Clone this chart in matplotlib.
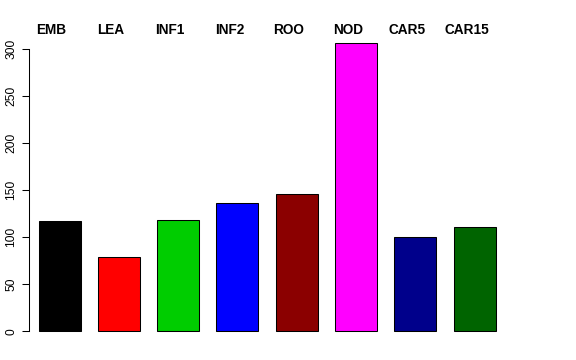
import matplotlib
matplotlib.use("Agg")
import matplotlib.pyplot as plt
import matplotlib.transforms as mtransforms

# tissue groups and their counts
tissues = ["EMB", "LEA", "INF1", "INF2", "ROO", "NOD", "CAR5", "CAR15"]
counts = [117, 79, 118, 136, 146, 306, 100, 111]
colors = ["#000000", "#FF0000", "#00CD00", "#0000FF",
          "#8B0000", "#FF00FF", "#00008B", "#006400"]
yticks = [0, 50, 100, 150, 200, 250, 300]

plt.rcParams["font.family"] = ["Liberation Sans", "DejaVu Sans"]
fs = 8.64  # 12 px at 100 dpi

fig = plt.figure(figsize=(5.76, 3.6), dpi=100)
ax = fig.add_axes([0.0498, 0.0483, 0.8977, 0.8636])

x = list(range(len(tissues)))
ax.bar(x, counts, width=0.708, color=colors, edgecolor="black", linewidth=0.75)

ax.set_xlim(-0.52, 8.2)
ax.set_ylim(-12, 318)

for s in ["top", "right", "bottom"]:
    ax.spines[s].set_visible(False)
ax.spines["left"].set_bounds(0, 300)
ax.spines["left"].set_linewidth(0.75)
ax.set_xticks([])
ax.set_yticks(yticks)
ax.set_yticklabels([str(v) for v in yticks], rotation=90, va="center", fontsize=fs)
ax.tick_params(axis="y", length=5.2, width=0.75, pad=3)

# names written above the plot area
trans = mtransforms.blended_transform_factory(ax.transData, ax.transAxes)
for xi, name in zip(x, tissues):
    ax.text(xi - 0.135, 0.9926, name, transform=trans, ha="center", va="baseline",
            fontsize=9.8, fontweight="bold")

fig.savefig("out.png", dpi=100)
